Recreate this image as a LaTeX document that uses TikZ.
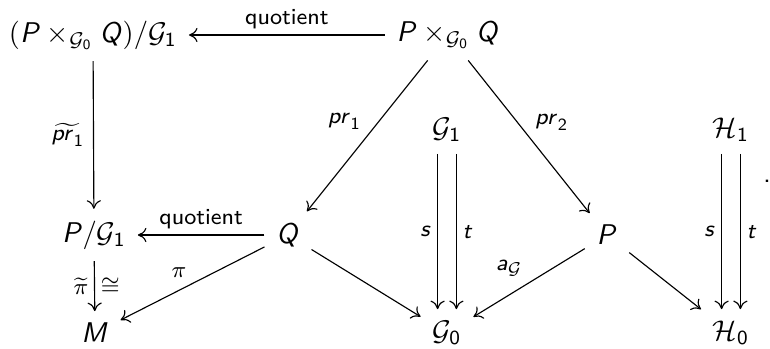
\documentclass[tikz,border=0pt]{standalone}
\usepackage{amsmath,amssymb}
\usepackage{tikz}
\usetikzlibrary{arrows.meta}
\DeclareMathAlphabet{\mathsfit}{OT1}{cmss}{m}{sl}
\DeclareMathAlphabet{\mathsfup}{OT1}{cmss}{m}{n}

\begin{document}
\begin{tikzpicture}[
  x=0.351pt, y=-0.351pt,
  obj/.style={font=\sffamily, inner sep=4pt},
  lbl/.style={font=\footnotesize\sffamily, inner sep=2pt},
  map/.style={-{Computer Modern Rightarrow[length=3pt, width=5pt]}}]
\useasboundingbox (0,0) rectangle (770,349);
% objects
\node[obj] (tl) at (93,35) {$(\mathsfit{P}\times_{\mathcal{G}_{\mathsfup{0}}}\mathsfit{Q})/\mathcal{G}_{\mathsfup{1}}$};
\node[obj] (tr) at (448,35) {$\mathsfit{P}\times_{\mathcal{G}_{\mathsfup{0}}}\mathsfit{Q}$};
\node[obj] (g1) at (447,130) {$\mathcal{G}_{\mathsfup{1}}$};
\node[obj] (h1) at (731,130) {$\mathcal{H}_{\mathsfup{1}}$};
\node[obj] (pg) at (94,235) {$\mathsfit{P}/\mathcal{G}_{\mathsfup{1}}$};
\node[obj] (q) at (288,235) {$\mathsfit{Q}$};
\node[obj] (p) at (607,235) {$\mathsfit{P}$};
\node[obj] (m) at (95,333) {$\mathsfit{M}$};
\node[obj] (g0) at (447,333) {$\mathcal{G}_{\mathsfup{0}}$};
\node[obj] (h0) at (731,333) {$\mathcal{H}_{\mathsfup{0}}$};
\node[obj, inner sep=0pt] (dot) at (767,181) {.};
% maps
\draw[map] (tr) -- node[lbl, above] {quotient} (tl);
\draw[map] (tl) -- node[lbl, left=1pt] {$\widetilde{\mathsfit{pr}_{\mathsfup{1}}}$} (pg);
\draw[map] (tr) -- node[lbl, above left] {$\mathsfit{pr}_{\mathsfup{1}}$} (q);
\draw[map] (tr) -- node[lbl, above right] {$\mathsfit{pr}_{\mathsfup{2}}$} (p);
\draw[map] (q) -- node[lbl, above] {quotient} (pg);
\draw[map] (pg) -- node[lbl, left] {$\widetilde{\pi}$} node[lbl, right] {$\cong$} (m);
\draw[map] (q) -- node[lbl, above left] {$\pi$} (m);
\draw[map] (q) -- (g0);
\draw[map] (p) -- node[lbl, above left] {$\mathsfit{a}_{\mathcal{G}}$} (g0);
\draw[map] (p) -- (h0);
% source and target
\foreach \a/\b in {g1/g0,h1/h0} {
  \draw[map] ([xshift=-3.3pt]\a.south) -- node[lbl, left] {$\mathsfit{s}$} ([xshift=-3.3pt]\b.north);
  \draw[map] ([xshift=3.3pt]\a.south) -- node[lbl, right] {$\mathsfit{t}$} ([xshift=3.3pt]\b.north);
}
\end{tikzpicture}
\end{document}
